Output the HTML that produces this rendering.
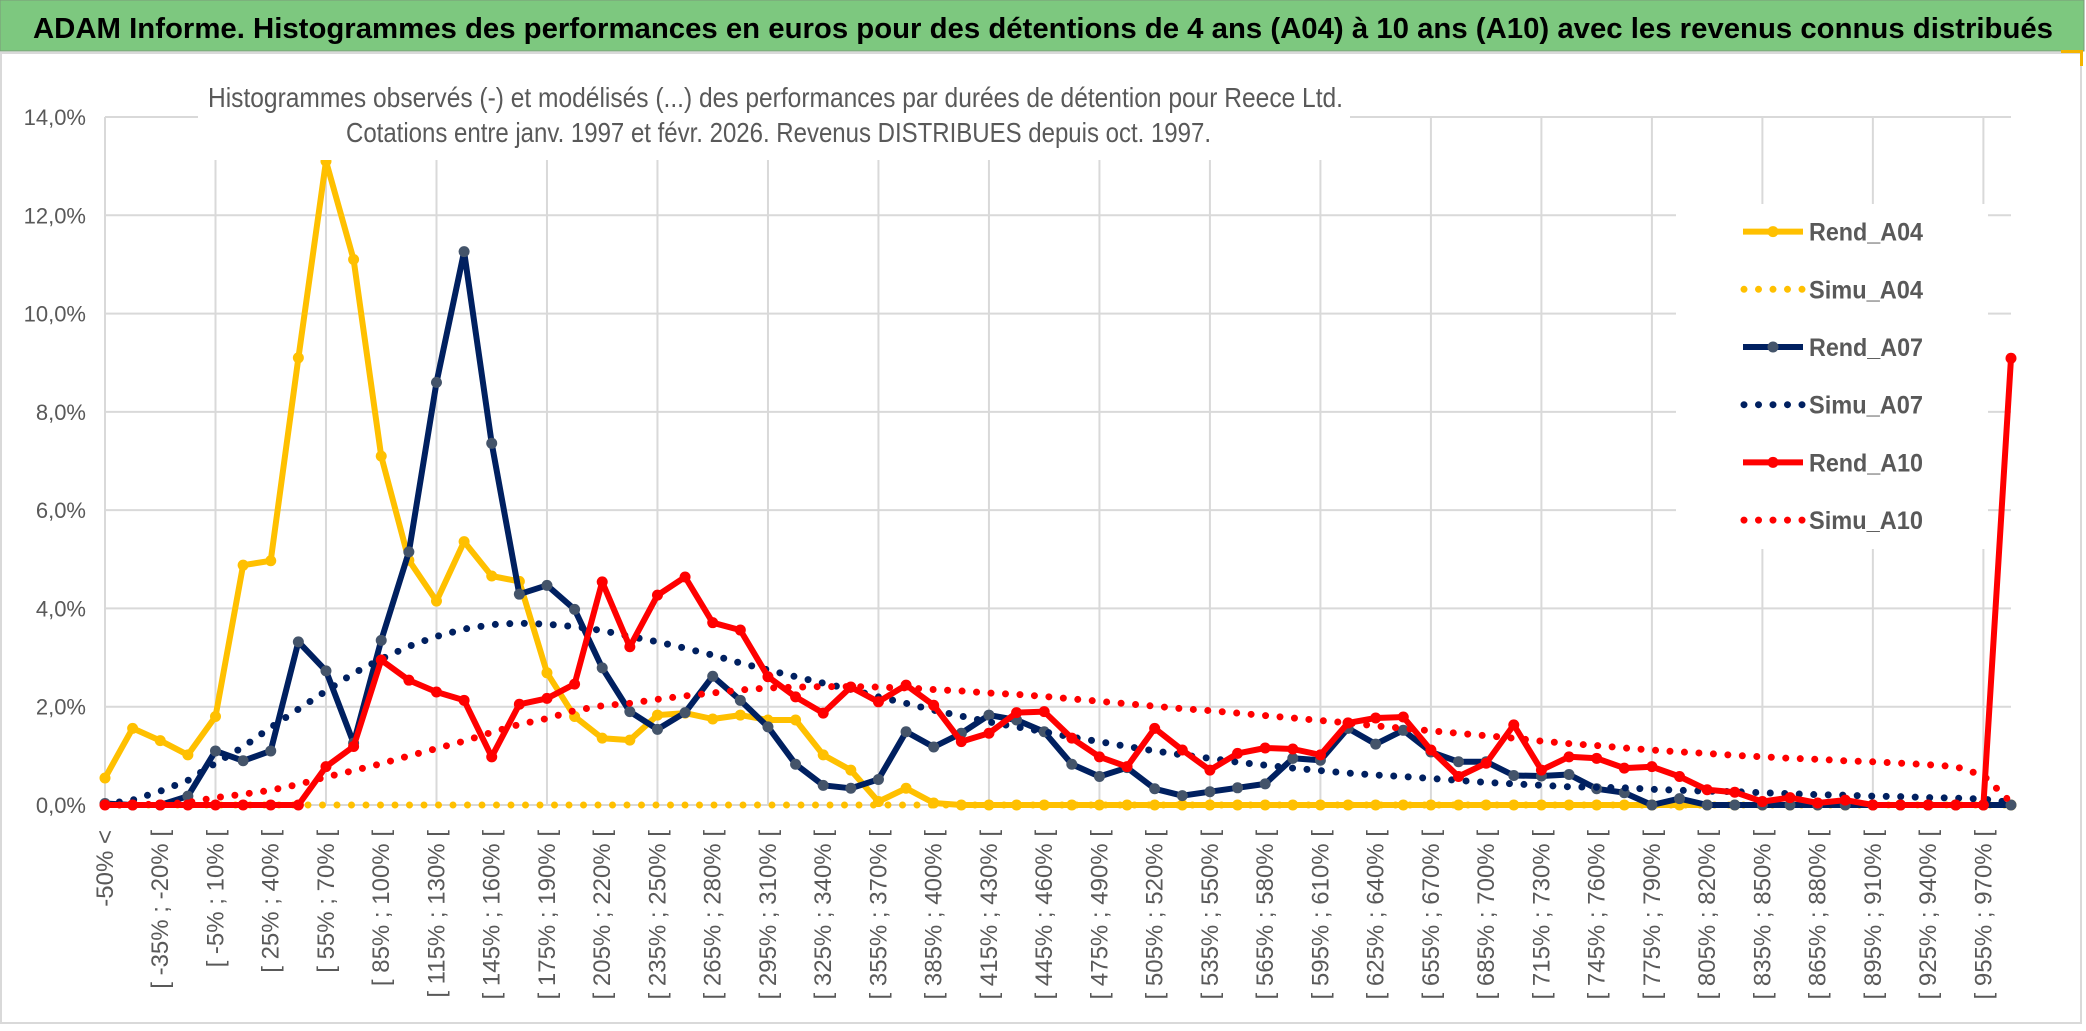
<!DOCTYPE html>
<html><head><meta charset="utf-8">
<style>
html,body{margin:0;padding:0;background:#fff;}
svg{display:block;font-family:"Liberation Sans",sans-serif;}
</style></head>
<body>
<svg id="chart" width="2086" height="1031" viewBox="0 0 2086 1031" xmlns="http://www.w3.org/2000/svg">
  <rect x="0" y="0" width="2086" height="1031" fill="#ffffff"/>
  <rect x="0" y="0" width="2084" height="51" fill="#7dc87f" stroke="#7a9a7a" stroke-width="1"/>
  <text x="33" y="38" font-size="29" font-weight="bold" fill="#000" textLength="2020" lengthAdjust="spacingAndGlyphs">ADAM Informe. Histogrammes des performances en euros pour des détentions de 4 ans (A04) à 10 ans (A10) avec les revenus connus distribués</text>
  <rect x="1" y="53" width="2080" height="970" fill="#fff" stroke="#d9d9d9" stroke-width="2"/>
  <rect x="2061" y="50" width="20" height="3" fill="#f4b400"/>
  <rect x="2080" y="50" width="3" height="16" fill="#f4b400"/>
  <g id="grid"></g>
  <g id="yticks"></g>
  <g id="xticks"></g>
  <g id="series"></g>
  <rect x="198" y="62" width="1152" height="98" fill="#fff"/>
  <text x="208" y="107" font-size="28" fill="#595959" textLength="1135" lengthAdjust="spacingAndGlyphs">Histogrammes observés (-) et modélisés (...) des performances par durées de détention pour Reece Ltd.</text>
  <text x="346" y="142" font-size="28" fill="#595959" textLength="865" lengthAdjust="spacingAndGlyphs">Cotations entre janv. 1997 et févr. 2026. Revenus DISTRIBUES depuis oct. 1997.</text>
  <g id="legend"></g>
</svg>
<script>
const categoriesStart = -50;
const categoriesStep = 15;
const nCats = 70;
const yTicks = [0, 2, 4, 6, 8, 10, 12, 14];
const yTickLabels = ["0,0%","2,0%","4,0%","6,0%","8,0%","10,0%","12,0%","14,0%"];
const rendA04 = [0.55,1.56,1.31,1.02,1.8,4.88,4.97,9.1,13.1,11.1,7.1,4.98,4.15,5.36,4.66,4.55,2.69,1.8,1.36,1.32,1.83,1.87,1.75,1.83,1.73,1.73,1.02,0.71,0.07,0.34,0.04,0,0,0,0,0,0,0,0,0,0,0,0,0,0,0,0,0,0,0,0,0,0,0,0,0,0,0,0,0,0,0,0,0,0,0,0,0,0,0];
const simuA04 = [0,0,0,0,0,0,0,0,0,0,0,0,0,0,0,0,0,0,0,0,0,0,0,0,0,0,0,0,0,0,0,0,0,0,0,0,0,0,0,0,0,0,0,0,0,0,0,0,0,0,0,0,0,0,0,0,0,0,0,0,0,0,0,0,0,0,0,0,0,0];
const rendA07 = [0.03,0,0,0.18,1.1,0.9,1.1,3.32,2.73,1.26,3.35,5.15,8.6,11.26,7.36,4.29,4.47,3.98,2.79,1.9,1.54,1.88,2.62,2.13,1.59,0.83,0.4,0.34,0.52,1.49,1.18,1.46,1.83,1.73,1.49,0.83,0.58,0.76,0.33,0.19,0.27,0.35,0.43,0.95,0.91,1.56,1.24,1.52,1.08,0.88,0.88,0.6,0.59,0.62,0.33,0.25,0,0.13,0,0,0,0,0,0,0,0,0,0,0,0];
const simuA07 = [0.02,0.1,0.28,0.5,0.85,1.18,1.58,1.95,2.32,2.68,2.97,3.23,3.43,3.58,3.67,3.7,3.68,3.63,3.55,3.43,3.32,3.19,3.05,2.89,2.75,2.61,2.48,2.35,2.2,2.07,1.93,1.81,1.69,1.59,1.49,1.38,1.29,1.19,1.1,1.02,0.95,0.87,0.81,0.75,0.7,0.65,0.61,0.58,0.54,0.5,0.46,0.43,0.4,0.37,0.36,0.35,0.32,0.3,0.28,0.27,0.25,0.23,0.21,0.2,0.18,0.17,0.15,0.14,0.12,0.05];
const rendA10 = [0,0,0,0,0,0,0,0,0.78,1.19,2.95,2.54,2.3,2.13,0.98,2.05,2.17,2.46,4.54,3.22,4.27,4.64,3.71,3.56,2.61,2.2,1.87,2.4,2.1,2.44,2.03,1.29,1.46,1.88,1.9,1.36,0.98,0.78,1.56,1.12,0.71,1.05,1.16,1.14,1.02,1.67,1.77,1.79,1.12,0.58,0.85,1.63,0.71,0.98,0.95,0.75,0.78,0.58,0.31,0.26,0.07,0.15,0.04,0.1,0,0,0,0,0,9.09];
const simuA10 = [0,0,0.02,0.05,0.15,0.22,0.3,0.42,0.57,0.7,0.84,1.0,1.15,1.3,1.48,1.64,1.76,1.92,2.02,2.07,2.15,2.22,2.28,2.34,2.38,2.4,2.41,2.41,2.4,2.38,2.35,2.32,2.28,2.25,2.21,2.16,2.11,2.06,2.01,1.96,1.92,1.87,1.82,1.77,1.72,1.67,1.61,1.56,1.51,1.46,1.41,1.36,1.3,1.25,1.21,1.16,1.12,1.08,1.05,1.01,0.98,0.95,0.93,0.9,0.88,0.85,0.82,0.78,0.6,0.05];
const seriesNames = ["Rend_A04","Simu_A04","Rend_A07","Simu_A07","Rend_A10","Simu_A10"];

const NS = "http://www.w3.org/2000/svg";
const X0 = 105, X1 = 2011, Y0 = 805, YTOP = 117, YMAX = 14;
function xPos(i){ return X0 + (X1 - X0) * i / (nCats - 1); }
function yPos(v){ return Y0 - (Y0 - YTOP) * v / YMAX; }
function mk(tag, attrs, parent){
  const el = document.createElementNS(NS, tag);
  for (const k in attrs) el.setAttribute(k, attrs[k]);
  parent.appendChild(el);
  return el;
}
function catLabel(i){
  if (i === 0) return categoriesStart + "% <";
  const a = categoriesStart + categoriesStep * (i - 1);
  return "[ " + a + "% ; " + (a + categoriesStep) + "% [";
}

const grid = document.getElementById('grid');
yTicks.forEach(function(t){
  const l = mk('line', {x1: X0, x2: X1, y1: yPos(t), y2: yPos(t), stroke: '#d9d9d9', 'stroke-width': 2}, grid);
  
  
});
for (let i = 0; i < nCats; i += 4) {
  const l = mk('line', {x1: xPos(i), x2: xPos(i), y1: YTOP, y2: Y0, stroke: '#d9d9d9', 'stroke-width': 2}, grid);
  
  
}

const yt = document.getElementById('yticks');
yTicks.forEach(function(t, k){
  const tx = mk('text', {x: 86, y: yPos(t) + 8, 'text-anchor': 'end', 'font-size': 22, fill: '#595959'}, yt);
  tx.textContent = yTickLabels[k];
  
  
});

const xt = document.getElementById('xticks');
for (let i = 0; i < nCats; i += 2) {
  const x = xPos(i) + 8;
  const tx = mk('text', {x: x, y: 830, 'text-anchor': 'end', 'font-size': 24, fill: '#595959', transform: 'rotate(-90 ' + x + ' 830)'}, xt);
  tx.textContent = catLabel(i);
  
  
}

const sg = document.getElementById('series');
function ptsOf(arr){ return arr.map(function(v, i){ return xPos(i).toFixed(1) + ',' + yPos(v).toFixed(1); }).join(' '); }
function drawRend(arr, color, mColor, name){
  const g = mk('g', {}, sg);
  
  
  const pl = mk('polyline', {points: ptsOf(arr), fill: 'none', stroke: color, 'stroke-width': 6, 'stroke-linejoin': 'round'}, g);
  
  
  arr.forEach(function(v, i){
    const c = mk('circle', {cx: xPos(i), cy: yPos(v), r: 5.5, fill: mColor}, g);
    
    
  });
}
function drawSimu(arr, color, name){
  const pl = mk('polyline', {points: ptsOf(arr), fill: 'none', stroke: color, 'stroke-width': 7, 'stroke-linecap': 'round', 'stroke-dasharray': '0 14.5'}, sg);
  
  
}
drawRend(rendA04, '#ffc000', '#ffc000', 'rend-a04-series');
drawSimu(simuA04, '#ffc000', 'simu-a04-series');
drawRend(rendA07, '#002060', '#44546a', 'rend-a07-series');
drawSimu(simuA07, '#002060', 'simu-a07-series');
drawRend(rendA10, '#ff0000', '#ff0000', 'rend-a10-series');
drawSimu(simuA10, '#ff0000', 'simu-a10-series');

const lg = document.getElementById('legend');
const bg = mk('rect', {x: 1676, y: 204, width: 312, height: 345, fill: '#fff'}, lg);


const legColors = ['#ffc000','#ffc000','#002060','#002060','#ff0000','#ff0000'];
const legMarker = ['#ffc000','#ffc000','#44546a','#002060','#ff0000','#ff0000'];
seriesNames.forEach(function(n, k){
  const y = 231.6 + k * 57.7;
  const g = mk('g', {}, lg);
  
  
  if (k % 2 === 0) {
    mk('line', {x1: 1743, x2: 1803, y1: y, y2: y, stroke: legColors[k], 'stroke-width': 6}, g);
    mk('circle', {cx: 1773, cy: y, r: 5.5, fill: legMarker[k]}, g);
  } else {
    mk('line', {x1: 1744, x2: 1803, y1: y, y2: y, stroke: legColors[k], 'stroke-width': 7, 'stroke-linecap': 'round', 'stroke-dasharray': '0 14.5'}, g);
  }
  const t = mk('text', {x: 1809, y: y + 9, 'font-size': 25, 'font-weight': 'bold', fill: '#595959', textLength: 114, lengthAdjust: 'spacingAndGlyphs'}, g);
  t.textContent = n;
});
</script>
</body></html>
